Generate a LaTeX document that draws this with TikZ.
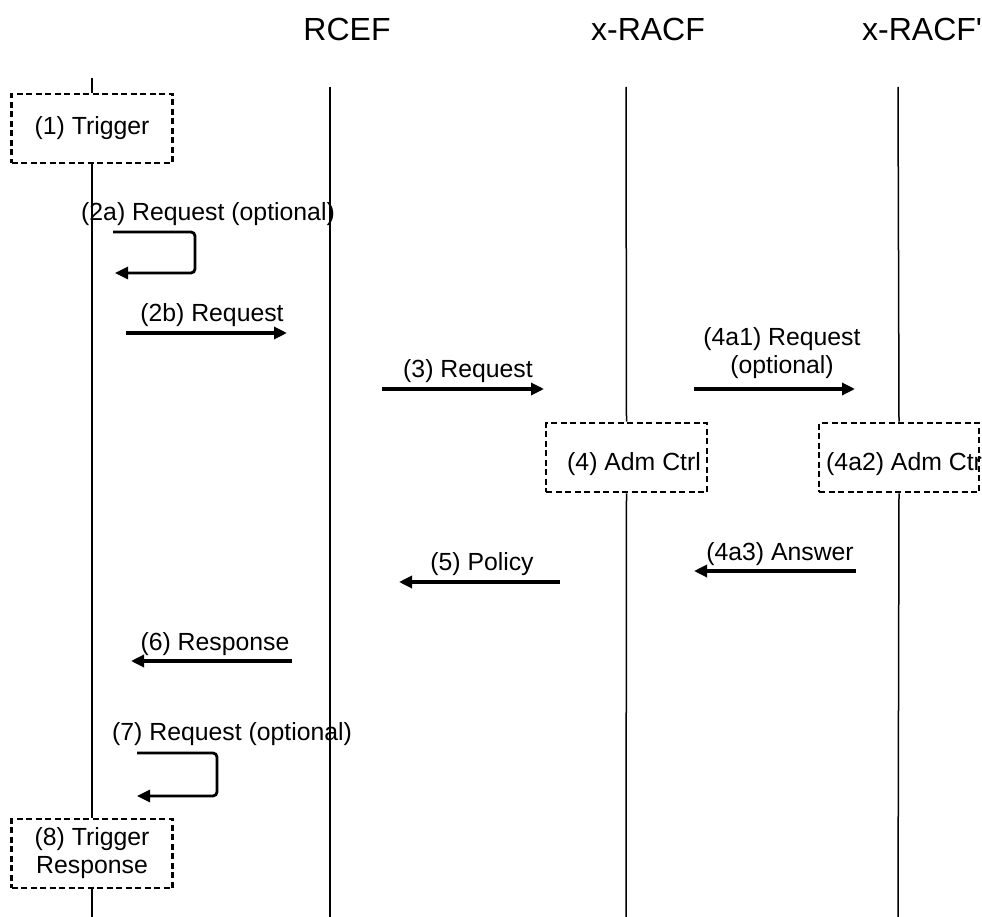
\documentclass[tikz,border=0pt]{standalone}
\usepackage{fontspec}
\setmainfont{Liberation Sans}
\usetikzlibrary{arrows.meta}

\begin{document}
\begin{tikzpicture}[x=1pt, y=-1pt,
  lifeline/.style={line width=1.5pt},
  stepbox/.style={draw, dashed, dash pattern=on 6pt off 3.5pt, line width=2.9pt, inner sep=0pt, align=center},
  msg/.style={line width=3.2pt, -{Triangle[length=13pt, width=12pt]}},
  selfmsg/.style={line width=2.8pt, rounded corners=4pt, -{Triangle[length=13pt, width=12pt]}},
  txt/.style={font=\fontsize{24.8}{28}\selectfont, inner sep=0pt},
  head/.style={font=\fontsize{32}{36}\selectfont, inner sep=0pt, anchor=base}]
 \useasboundingbox (0,0) rectangle (982,917);
 % entities
 \node (rcef) [head] at (347,41) {RCEF};
 \node (racf) [head] at (648,41) {x-RACF};
 \node (racfb) [head, anchor=base west] at (862,41) {x-RACF\textquotesingle};
 % box texts that do not sit centred
 \node (admtxt) [txt, anchor=base west] at (567,470) {(4) Adm Ctrl};
 \node (admbtxt) [txt, anchor=base west] at (826,470) {(4a2) Adm Ctrl};
 % boxes
 \begin{scope}[every node/.style={stepbox, txt}]
   \node (trig) [minimum width=161pt, minimum height=69pt] at (92,128.5) {(1) Trigger};
   \node (trigres) [minimum width=161pt, minimum height=69pt] at (92,853.5) {(8) Trigger\\Response};
   \node (adm) [minimum width=161pt, minimum height=69pt] at (626.5,457.5) {};
   \node (admb) [minimum width=160pt, minimum height=69pt] at (899,457.5) {};
 \end{scope}
 % lifelines
 \coordinate (ue0) at (92,78);
 \coordinate (ue1) at (92,917);
 \coordinate (rcef0) at (330,87);
 \coordinate (rcef1) at (330,917);
 \coordinate (racf0) at (626,87);
 \coordinate (racf1) at (626,917);
 \coordinate (racfb0) at (898,87);
 \coordinate (racfb1) at (898,917);
 \draw[lifeline] (ue0) -- (trig.north);
 \draw[lifeline] (trig.south) -- (trigres.north);
 \draw[lifeline] (trigres.south) -- (ue1);
 \draw[lifeline] (rcef0) -- (rcef1);
 \draw[lifeline] (racf0) -- (adm.north);
 \draw[lifeline] (adm.south) -- (racf1);
 \draw[lifeline] (racfb0) -- (admb.north);
 \draw[lifeline] (admb.south) -- (racfb1);
 % messages
 \coordinate (m2a0) at (113,232);
 \coordinate (m2a1) at (195,232);
 \coordinate (m2a2) at (195,273);
 \coordinate (m2a3) at (115,273);
 \node (m2atxt) [txt, anchor=base west] at (81,220.5) {(2a) Request (optional)};
 \draw[selfmsg] (m2a0) -- (m2a1) -- (m2a2) -- (m2a3);
 \coordinate (m2b0) at (126,333);
 \coordinate (m2b1) at (287,333);
 \node (m2btxt) [txt, anchor=base] at (212,321) {(2b) Request};
 \draw[msg] (m2b0) -- (m2b1);
 \coordinate (m30) at (382,389);
 \coordinate (m31) at (544,389);
 \node (m3txt) [txt, anchor=base] at (468,377) {(3) Request};
 \draw[msg] (m30) -- (m31);
 \coordinate (m4a10) at (694,389);
 \coordinate (m4a11) at (855,389);
 \node (m4a1txt) [txt, anchor=base] at (782,345) {(4a1) Request};
 \node (m4a1txtb) [txt, anchor=base] at (782,373) {(optional)};
 \draw[msg] (m4a10) -- (m4a11);
 \coordinate (m4a30) at (856,571);
 \coordinate (m4a31) at (694,571);
 \node (m4a3txt) [txt, anchor=base] at (780,560) {(4a3) Answer};
 \draw[msg] (m4a30) -- (m4a31);
 \coordinate (m50) at (560,582);
 \coordinate (m51) at (399,582);
 \node (m5txt) [txt, anchor=base] at (482,570) {(5) Policy};
 \draw[msg] (m50) -- (m51);
 \coordinate (m60) at (292,661);
 \coordinate (m61) at (131,661);
 \node (m6txt) [txt, anchor=base] at (215,650) {(6) Response};
 \draw[msg] (m60) -- (m61);
 \coordinate (m70) at (137,753);
 \coordinate (m71) at (217,753);
 \coordinate (m72) at (217,796);
 \coordinate (m73) at (137,796);
 \node (m7txt) [txt, anchor=base west] at (112,740) {(7) Request (optional)};
 \draw[selfmsg] (m70) -- (m71) -- (m72) -- (m73);
\end{tikzpicture}
\end{document}
